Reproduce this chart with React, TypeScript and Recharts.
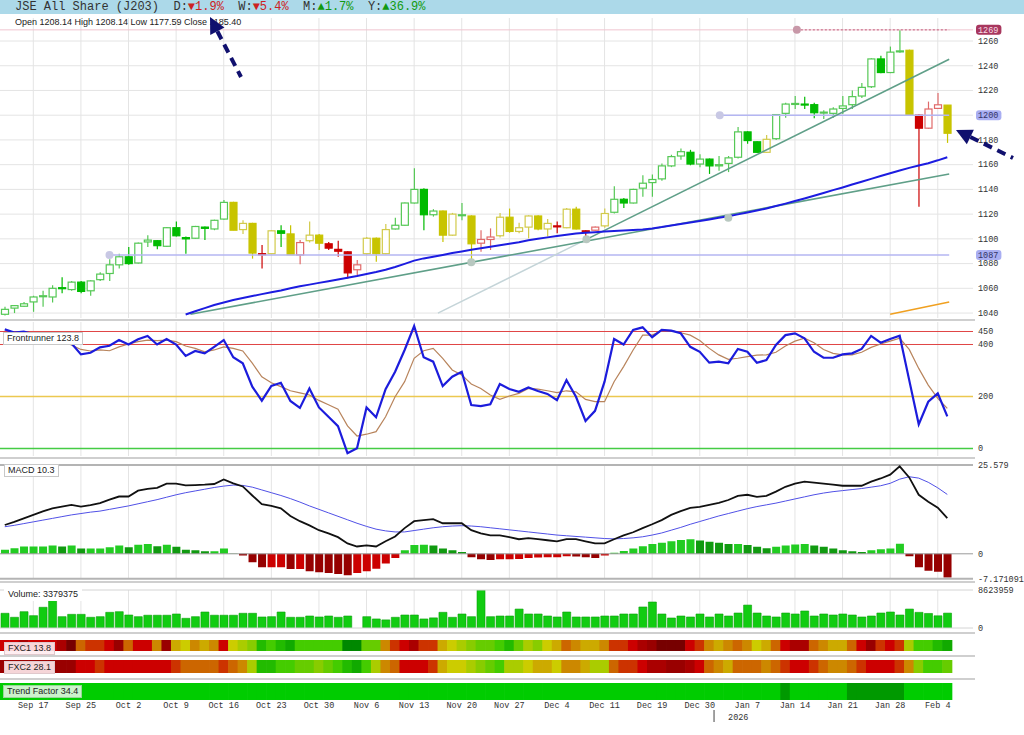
import React from "react";
import { ComposedChart, Bar, Line, XAxis, YAxis, CartesianGrid, ReferenceLine, ReferenceDot, Cell } from "recharts";

// ---- price bars (Sep 12 .. Feb 5) ----
const OPEN = [
  1039, 1044, 1045.5, 1049, 1053.5, 1053, 1060.5, 1059, 1065, 1058,
  1067, 1072, 1079, 1085.5, 1080.5, 1097.5, 1098.5, 1094, 1109, 1101,
  1100.5, 1109.5, 1108, 1116, 1129.5, 1107.5, 1112.5, 1088, 1088, 1106.5,
  1104, 1087, 1098.5, 1103, 1096, 1091.5, 1089.5, 1075, 1088, 1100.5,
  1088, 1108, 1111, 1129, 1140, 1119.5, 1122.5, 1103, 1119, 1118.5,
  1096.5, 1099.5, 1102.5, 1117.5, 1106, 1109.5, 1118.5, 1108, 1110.5, 1109,
  1124, 1106.5, 1107, 1110.5, 1121.5, 1132, 1129, 1141, 1145.5, 1148.5,
  1159, 1167, 1170, 1160.5, 1164.5, 1159, 1161, 1166, 1186.5, 1178.5,
  1170, 1181, 1201.5, 1209, 1209, 1208.5, 1202, 1201.5, 1205.5, 1208.5,
  1215.5, 1223, 1245.5, 1234.5, 1251.5, 1252.5, 1200, 1189.5, 1205.5, 1208.14,
];
const HIGH = [
  1045, 1046.5, 1049, 1054, 1058, 1062.5, 1069, 1066, 1066, 1066.5,
  1073, 1083.5, 1088, 1093.5, 1097, 1103, 1099, 1109.5, 1114, 1102,
  1110.5, 1110, 1115.5, 1131.5, 1130, 1115, 1113, 1095, 1107, 1111,
  1111, 1099, 1114, 1104, 1097.5, 1098.5, 1090, 1083, 1101.5, 1101,
  1112, 1117, 1129.5, 1157, 1141, 1124, 1123, 1121, 1129, 1119,
  1107, 1108.5, 1121, 1124.5, 1113, 1119, 1119, 1116, 1114, 1125,
  1126, 1107, 1110, 1124.5, 1142.5, 1133, 1140.5, 1151.5, 1152, 1161,
  1168, 1173, 1172, 1168.5, 1165, 1167, 1167, 1190.5, 1187, 1179,
  1184, 1201, 1210, 1215.5, 1215, 1210, 1204, 1206.5, 1215.5, 1220,
  1226, 1246, 1248, 1255.5, 1269, 1253, 1200.5, 1211, 1218, 1208.14,
];
const LOW = [
  1038, 1040, 1045, 1041, 1045, 1048.5, 1056, 1058, 1056, 1054,
  1066, 1066, 1076, 1079, 1080, 1093.5, 1091.5, 1093.5, 1102, 1088,
  1100, 1099, 1107, 1115.5, 1107, 1104, 1084, 1076, 1087.5, 1093.5,
  1087, 1079.5, 1097, 1091, 1091, 1085.5, 1068, 1070, 1087, 1081.5,
  1087.5, 1107.5, 1110.5, 1128.5, 1107, 1118, 1097.5, 1102.5, 1115, 1083,
  1089.5, 1091, 1101, 1105, 1104.5, 1100.5, 1107, 1102, 1104.5, 1108.5,
  1107.5, 1099, 1106.5, 1109, 1120.5, 1125, 1128.5, 1134, 1134, 1147,
  1158, 1164, 1159.5, 1158, 1152.5, 1155, 1154, 1165, 1177, 1169.5,
  1169.5, 1180, 1198, 1205, 1205, 1197.5, 1197, 1198, 1201, 1205,
  1214, 1222, 1234, 1234, 1250.5, 1200, 1126, 1189, 1205, 1177.59,
];
const CLOSE = [
  1043, 1046, 1047.5, 1053, 1054, 1060, 1060, 1065, 1057.5, 1066,
  1071.5, 1079, 1085.5, 1080, 1096.5, 1099, 1094.5, 1109, 1102.5, 1100,
  1110, 1108.5, 1115, 1129.5, 1107, 1112.5, 1088.5, 1087.5, 1106.5, 1104.5,
  1087.2, 1097, 1103, 1096.5, 1092.5, 1090, 1072.5, 1079, 1100.5, 1088,
  1107.5, 1111, 1129, 1140, 1119.5, 1122.5, 1103, 1120, 1119.5, 1096,
  1099.5, 1101.5, 1117.5, 1106, 1109, 1118.5, 1108, 1112.5, 1110.2, 1124,
  1108, 1106, 1109.5, 1120.5, 1132, 1129, 1140, 1145, 1148, 1159,
  1166.5, 1170.5, 1160.5, 1164.5, 1159, 1160, 1165.5, 1186.5, 1179.5, 1170,
  1180.5, 1200.5, 1209, 1209.5, 1208.5, 1202, 1202.5, 1205, 1207.5, 1215,
  1222.5, 1245.5, 1234.5, 1251, 1252, 1200.2, 1189.5, 1205, 1208.4, 1185.4,
];
// candle colouring from the source system: g = green, y = yellow, r = red
const TONE = [
  "g", "g", "g", "g", "g", "g", "g", "g", "g", "g",
  "g", "g", "g", "g", "g", "g", "g", "g", "g", "g",
  "g", "g", "g", "g", "y", "y", "y", "r", "y", "g",
  "y", "r", "y", "y", "r", "r", "r", "r", "y", "y",
  "y", "g", "g", "g", "g", "g", "y", "y", "g", "y",
  "r", "r", "y", "y", "y", "y", "y", "y", "r", "y",
  "y", "r", "r", "y", "g", "g", "g", "g", "g", "g",
  "g", "g", "g", "g", "g", "g", "g", "g", "g", "g",
  "y", "g", "g", "g", "g", "g", "g", "g", "g", "g",
  "g", "g", "g", "g", "g", "y", "r", "r", "r", "y",
];

const MA = [
  null, null, null, null, null, null, null, null, null, null,
  null, null, null, null, null, null, null, null, null, 1038.8,
  1041.5, 1044, 1046.5, 1048.5, 1050.5, 1052.2, 1053.8, 1055.3, 1056.8, 1058.3,
  1060, 1061.6, 1063, 1064.4, 1065.8, 1067.2, 1068.6, 1070, 1071.6, 1073.2,
  1075, 1077.3, 1079.8, 1082.4, 1084.2, 1085.6, 1087, 1088.5, 1089.8, 1091.2,
  1092.4, 1093.6, 1094.8, 1096, 1097.2, 1098.8, 1100, 1101.2, 1102.3, 1103.3,
  1104.3, 1104.9, 1105.4, 1105.9, 1106.3, 1106.7, 1107.1, 1107.6, 1108.4, 1109.5,
  1110.8, 1112, 1113.2, 1114.4, 1115.7, 1117, 1118.3, 1119.8, 1121.3, 1122.9,
  1124.6, 1126.5, 1128.5, 1130.6, 1132.7, 1134.9, 1137.1, 1139.4, 1141.6, 1143.9,
  1146.2, 1148.5, 1150.8, 1153.1, 1155.3, 1157.4, 1159.3, 1161.2, 1163.5, 1166,
];

// ---- Frontrunner ----
const FRONT = [
  458, 446, 450, 440, 432, 425, 415, 405, 362, 368,
  389, 395, 417, 400, 420, 433, 400, 421, 400, 356,
  375, 366, 391, 417, 351, 328, 238, 184, 241, 253,
  183, 156, 231, 158, 122, 86, -18, 1, 158, 120,
  228, 295, 379, 471, 351, 334, 240, 276, 295, 167,
  163, 170, 248, 229, 218, 235, 221, 210, 186, 263,
  199, 106, 145, 257, 421, 400, 456, 466, 428, 456,
  453, 443, 391, 372, 330, 334, 328, 383, 372, 330,
  340, 398, 436, 443, 424, 372, 349, 349, 362, 366,
  383, 433, 407, 421, 434, 263, 93, 180, 212, 123.8,
];
const FRONT_SIG = [
  420, 424, 428, 430, 428, 424, 415, 398, 381, 375,
  379, 376, 391, 402, 411, 417, 415, 417, 411, 394,
  385, 372, 379, 391, 385, 375, 328, 276, 253, 238,
  222, 214, 206, 185, 168, 151, 87, 48, 55, 65,
  122, 199, 257, 347, 376, 385, 347, 302, 283, 248,
  231, 206, 189, 202, 212, 231, 228, 222, 215, 222,
  218, 189, 180, 180, 257, 315, 379, 436, 436, 453,
  453, 445, 436, 415, 385, 360, 343, 347, 353, 359,
  360, 370, 394, 413, 424, 407, 381, 366, 360, 360,
  370, 389, 402, 413, 424, 381, 308, 244, 193, 154,
];

// ---- MACD ----
const MACD = [
  8.3, 9.2, 10.2, 11.2, 12.2, 13.1, 13.6, 14.1, 13.6, 14,
  14.6, 15.6, 16.5, 16.5, 18.2, 18.7, 19, 20.2, 20.2, 19.7,
  19.8, 19.9, 20.1, 21.4, 20.3, 19.4, 16.8, 14.3, 13.8, 13.1,
  10.9, 9.4, 8.2, 6.8, 5.9, 4.8, 3, 2.1, 2.4, 2.1,
  3.6, 5, 7.4, 9.4, 9.7, 10, 8.8, 8.8, 8.8, 6.8,
  5.9, 5.3, 5.3, 4.8, 4.2, 4.5, 4.2, 3.9, 3.6, 4.2,
  4.2, 3.6, 3, 3, 4.2, 5.3, 6.2, 7.4, 8.5, 9.7,
  11.2, 12.3, 13.2, 13.5, 14.1, 14.7, 15.5, 16.7, 17, 16.4,
  16.7, 17.9, 19.3, 20.2, 20.8, 20.5, 20.2, 19.9, 19.6, 19.6,
  19.6, 20.8, 21.7, 22.8, 25.2, 22, 17, 15, 13.3, 10.3,
];
const SIGNAL = [
  7.8, 8.2, 8.7, 9.2, 9.7, 10.2, 10.7, 11.2, 11.6, 12,
  12.3, 12.8, 13.3, 13.8, 14.4, 15, 15.6, 16.3, 17, 17.6,
  18.1, 18.6, 19.1, 19.5, 19.8, 19.7, 19.2, 18.4, 17.6, 16.8,
  15.9, 14.9, 13.8, 12.8, 11.8, 10.8, 9.8, 8.8, 7.9, 7.1,
  6.6, 6.3, 6.3, 6.7, 7.1, 7.5, 7.8, 8, 8.1, 8,
  7.8, 7.5, 7.2, 6.9, 6.6, 6.3, 6, 5.7, 5.4, 5.2,
  5, 4.8, 4.6, 4.4, 4.3, 4.4, 4.6, 4.9, 5.4, 6,
  6.8, 7.6, 8.5, 9.3, 10.1, 10.9, 11.6, 12.3, 13, 13.6,
  14.1, 14.6, 15.2, 15.8, 16.4, 17, 17.5, 17.9, 18.2, 18.5,
  18.8, 19.2, 19.6, 20.3, 21.5, 22.2, 21.8, 20.6, 19, 17.1,
];
const HIST = [
  1.2, 1.6, 2.1, 2.1, 2.1, 2.4, 2.1, 2.4, 1.5, 1.5,
  1.5, 1.9, 2.4, 1.9, 2.6, 2.8, 2.2, 2.6, 2, 1.2,
  1, 0.7, 0.7, 1.5, 0.1, -0.5, -2.4, -3.9, -3.9, -3.9,
  -4.4, -4.4, -5, -5.3, -5.5, -5.8, -6.2, -5.5, -5, -4.3,
  -2.8, -1.2, 1, 2.5, 2.6, 2.4, 1.5, 1, 0.5, -1,
  -1.6, -1.8, -1.6, -1.6, -1.5, -1.2, -1.1, -1, -1, -0.7,
  -0.8, -1, -1.2, -0.5, 0.3, 0.8, 1.5, 2.2, 2.8, 3.2,
  3.6, 4, 4.2, 3.8, 3.5, 3.2, 2.8, 2.8, 2.5, 2,
  1.6, 2, 2.4, 2.7, 2.8, 2.4, 2, 1.5, 1, 0.7,
  0.5, 1, 1.3, 1.5, 2.9, -0.7, -3.9, -4.9, -5.2, -6.8,
];
const MACD_MAX = 25.579;
const MACD_MIN = -7.171091;

// ---- volume ----
const VOLUME = [
  3340000, 2430000, 3700000, 2800000, 4700000, 6500000, 2570000, 3100000, 3100000, 2430000,
  2570000, 3560000, 3700000, 2950000, 2570000, 2900000, 2900000, 2900000, 3180000, 2200000,
  2570000, 3630000, 2900000, 2900000, 2900000, 3340000, 3340000, 2500000, 2570000, 3630000,
  2430000, 2430000, 2720000, 2500000, 2720000, 2430000, 2720000, null, 2570000, 2050000,
  1840000, 2430000, 2950000, 2950000, 2050000, 2300000, 3560000, 2430000, 3180000, 2570000,
  8623959, 2570000, 2720000, 2720000, 4300000, 3180000, 3180000, 2720000, 2500000, 3630000,
  2500000, 2500000, 2500000, 2720000, 2720000, 3180000, 3180000, 4770000, 5900000, 3180000,
  2270000, 2720000, 2500000, 3180000, 2500000, 3180000, 2720000, 3400000, 5200000, 3400000,
  2720000, 2500000, 3400000, 3180000, 3860000, 2720000, 3180000, 2950000, 3180000, 2950000,
  2500000, 2720000, 3400000, 3630000, 2950000, 4300000, 3550000, 3300000, 2770000, 3379375,
];
const VOL_MAX = 8623959;

// ---- heat strips (0 = deep red ... 15 = deep green) ----
const FXC1 = [
  3, 3, 2, 3, 3, 3, 2, 0, 5, 4, 4, 3, 1, 5, 3, 3, 6, 1, 7, 8,
  6, 7, 6, 3, 8, 9, 10, 13, 12, 13, 14, 12, 12, 12, 12, 12, 15, 15, 11, 11,
  6, 4, 3, 2, 4, 4, 7, 8, 9, 10, 11, 11, 12, 13, 11, 9, 10, 8, 7, 5,
  6, 7, 7, 6, 4, 4, 3, 2, 1, 0, 0, 0, 3, 4, 6, 7, 6, 5, 6, 8,
  7, 5, 3, 2, 2, 5, 6, 7, 7, 5, 3, 1, 4, 3, 4, 9, 12, 12, 13, 14,
];
const FXC2 = [
  1, 1, 1, 1, 1, 1, 1, 1, 3, 3, 4, 3, 3, 3, 3, 3, 3, 3, 4, 5,
  5, 5, 5, 4, 5, 6, 9, 13, 13, 12, 12, 11, 11, 10, 11, 12, 13, 14, 12, 9,
  6, 5, 3, 3, 3, 4, 7, 8, 8, 9, 10, 11, 12, 9, 9, 8, 7, 7, 8, 6,
  6, 7, 9, 9, 5, 4, 4, 3, 2, 2, 1, 1, 2, 3, 5, 6, 7, 5, 5, 5,
  6, 5, 4, 3, 3, 4, 5, 6, 6, 5, 4, 3, 3, 3, 4, 6, 10, 12, 12, 11,
];
// 1 = trending, 0 = strongly trending (darker cell)
const TREND = [
  1, 1, 1, 1, 1, 1, 1, 1, 1, 1, 1, 1, 1, 1, 1, 1, 1, 1, 1, 1,
  1, 1, 1, 1, 1, 1, 1, 1, 1, 1, 1, 1, 1, 1, 1, 1, 1, 1, 1, 1,
  1, 1, 1, 1, 1, 1, 1, 1, 1, 1, 1, 1, 1, 1, 1, 1, 1, 1, 1, 1,
  1, 1, 1, 1, 1, 1, 1, 1, 1, 1, 1, 1, 1, 1, 1, 1, 1, 1, 1, 1,
  1, 1, 0, 1, 1, 1, 1, 1, 1, 0, 0, 0, 0, 0, 0, 1, 1, 1, 1, 1,
];

const DATE_TICKS = [3, 8, 13, 18, 23, 28, 33, 38, 43, 48, 53, 58, 63, 68, 73, 78, 83, 88, 93, 98];
const DATE_LABELS = ["Sep 17", "Sep 25", "Oct 2", "Oct 9", "Oct 16", "Oct 23", "Oct 30", "Nov 6", "Nov 13", "Nov 20",
  "Nov 27", "Dec 4", "Dec 11", "Dec 19", "Dec 30", "Jan 7", "Jan 14", "Jan 21", "Jan 28", "Feb 4"];
const YEAR_TICKS = [74.5];
const YEAR_LABELS = ["2026"];
const PRICE_GRID = [1040, 1060, 1080, 1100, 1120, 1140, 1160, 1180, 1200, 1220, 1240, 1260];
const PRICE_BADGES: Record<number, [string, string]> = {
  1269: ["#a8375e", "#f6dce4"],
  1200: ["#a9aef2", "#333366"],
  1087: ["#a9aef2", "#333366"],
};

const HEAT = ["#770000", "#990000", "#aa0000", "#cc0000", "#cc3300", "#cc6600", "#cc8800", "#ccaa00",
  "#cccc00", "#aacc00", "#88cc00", "#66cc00", "#44cc00", "#22bb00", "#11aa00", "#008800"];
const CANDLE: Record<string, { line: string; fill: string }> = {
  g: { line: "#55c855", fill: "#00bb00" },
  y: { line: "#d2ca4a", fill: "#c8c400" },
  r: { line: "#e06a6a", fill: "#cc0000" },
};

const rows = OPEN.map((o, i) => ({
  i, o, h: HIGH[i], l: LOW[i], c: CLOSE[i], tone: TONE[i], ma: MA[i],
  fr: FRONT[i], frs: FRONT_SIG[i], macd: MACD[i], sig: SIGNAL[i], hist: HIST[i],
  vol: VOLUME[i], f1: FXC1[i], f2: FXC2[i], tf: TREND[i], one: 1,
}));

const W = 1024;
const AXIS_W = 51;
const X_DOMAIN: [number, number] = [-0.5, 101.7];
const MONO = "'Liberation Mono', 'DejaVu Sans Mono', monospace";
const SANS = "'Liberation Sans', Arial, sans-serif";
const GRID = "#e4e4e4";

function Candle(props: any) {
  const { x, y, width, height, payload } = props;
  if (!payload || height == null) return null;
  const { o, h, l, c, tone } = payload;
  const k = h > l ? height / (h - l) : 0;
  const py = (v: number) => y + (h - v) * k;
  const cx = x + width / 2;
  const col = CANDLE[tone] || CANDLE.g;
  const up = c >= o;
  const top = py(Math.max(o, c));
  const bot = py(Math.min(o, c));
  return (
    <g>
      <line x1={cx} x2={cx} y1={y} y2={y + height} stroke={up ? col.line : col.fill} strokeWidth={1.2} />
      <rect x={x + 0.5} y={top} width={width - 1} height={Math.max(bot - top, 1)}
        fill={up ? "#fff" : col.fill} stroke={up ? col.line : col.fill} strokeWidth={1.2} />
    </g>
  );
}

// heat-strip cell, widened a hair so neighbouring cells meet without seams
function stripCell(colorOf: (r: any) => string) {
  return (p: any) => (
    <rect x={p.x - 0.4} y={p.y} width={p.width + 0.8} height={p.height} fill={colorOf(p.payload)} />
  );
}

function RightTick(props: any) {
  const { x, y, payload } = props;
  const badge = PRICE_BADGES[payload.value];
  const txt = String(payload.value);
  if (badge) {
    return (
      <g>
        <rect x={x - 2} y={y - 5} width={txt.length * 5.1 + 5} height={10} rx={3} fill={badge[0]} />
        <text x={x} y={y} dy="0.33em" fontSize={8.5} fontFamily={MONO} fill={badge[1]}>{txt}</text>
      </g>
    );
  }
  return <text x={x} y={y} dy="0.33em" fontSize={8.5} fontFamily={MONO} fill="#333">{txt}</text>;
}

function DateTick(props: any) {
  const { x, y, index } = props;
  return <text x={x} y={y + 8} textAnchor="middle" fontSize={8.5} fontFamily={MONO} fill="#333">{DATE_LABELS[index]}</text>;
}

function YearTick(props: any) {
  const { x, y, index } = props;
  return (
    <g>
      <line x1={x} x2={x} y1={y} y2={y + 12} stroke="#444" strokeWidth={1} />
      <text x={x + 14} y={y + 10} fontSize={8.5} fontFamily={MONO} fill="#333">{YEAR_LABELS[index]}</text>
    </g>
  );
}

function histColor(i: number) {
  const v = HIST[i];
  const p = i > 0 ? HIST[i - 1] : v;
  if (v >= 0) return v >= p ? "#22cc22" : "#109a10";
  return v < p ? "#960000" : "#cc0000";
}

const hiddenX = <XAxis type="number" dataKey="i" domain={X_DOMAIN} allowDataOverflow hide />;

function rightAxis(domain: [number, number], ticks: number[]) {
  return (
    <YAxis orientation="right" width={AXIS_W} domain={domain} ticks={ticks} interval={0} allowDataOverflow
      axisLine={false} tickLine={false} tickSize={3} tickMargin={2} tick={RightTick} />
  );
}

function Label({ left, top, text, bg = "#fff", border = "#c8c8c8" }: any) {
  return (
    <div style={{
      position: "absolute", left, top, padding: "0 3px", height: 11, lineHeight: "11px",
      fontFamily: SANS, fontSize: 9, color: "#222", background: bg, border: `1px solid ${border}`,
      whiteSpace: "nowrap",
    }}>{text}</div>
  );
}

function Sep({ top }: { top: number }) {
  return <div style={{ position: "absolute", left: 0, top, width: 975, height: 2, background: "#cfcfcf" }} />;
}

function Arrow({ tip, tail }: { tip: [number, number]; tail: [number, number] }) {
  const dx = tail[0] - tip[0];
  const dy = tail[1] - tip[1];
  const len = Math.hypot(dx, dy);
  const ux = dx / len, uy = dy / len;
  const bx = tip[0] + ux * 16, by = tip[1] + uy * 16;
  const px = -uy * 8, py = ux * 8;
  return (
    <g>
      <line x1={bx} y1={by} x2={tail[0]} y2={tail[1]} stroke="#10106e" strokeWidth={4} strokeDasharray="9 6" />
      <polygon points={`${tip[0]},${tip[1]} ${bx + px},${by + py} ${bx - px},${by - py}`} fill="#10106e" />
    </g>
  );
}

export default function App() {
  return (
    <div style={{ position: "absolute", left: 0, top: 0, width: W, height: 735, background: "#fff", overflow: "hidden" }}>
      {/* header */}
      <div style={{ position: "absolute", left: 0, top: 0, width: W, height: 14, background: "#acd9e9" }} />
      <div style={{ position: "absolute", left: 15, top: 0, height: 14, lineHeight: "14px", fontFamily: MONO, fontSize: 12, color: "#333", whiteSpace: "pre" }}>
        {"JSE All Share (J203)  D:"}<span style={{ color: "#cc2222" }}>{"▼1.9%"}</span>
        {"  W:"}<span style={{ color: "#cc2222" }}>{"▼5.4%"}</span>
        {"  M:"}<span style={{ color: "#119911" }}>{"▲1.7%"}</span>
        {"  Y:"}<span style={{ color: "#119911" }}>{"▲36.9%"}</span>
      </div>

      {/* price */}
      <div style={{ position: "absolute", left: 0, top: 14 }}>
        <ComposedChart width={W} height={306} data={rows} margin={{ top: 4, right: 0, bottom: 2, left: 0 }}>
          <CartesianGrid stroke={GRID} verticalValues={DATE_TICKS} horizontalValues={PRICE_GRID} />
          {hiddenX}
          {rightAxis([1036, 1278.6], [...PRICE_GRID, 1087, 1269])}
          <ReferenceLine y={1269} stroke="#f0c4cf" />
          <ReferenceLine segment={[{ x: 83.2, y: 1269 }, { x: 99.2, y: 1269 }]} stroke="#c0607e" strokeDasharray="2 2" />
          <ReferenceLine segment={[{ x: 75.1, y: 1200 }, { x: 99.2, y: 1200 }]} stroke="#b4b6f2" strokeWidth={1.5} />
          <ReferenceLine segment={[{ x: 11, y: 1087 }, { x: 99.2, y: 1087 }]} stroke="#b4b6f2" strokeWidth={1.5} />
          <ReferenceLine segment={[{ x: 45.5, y: 1040 }, { x: 61.1, y: 1099.6 }]} stroke="#c4d4d8" strokeWidth={1.5} />
          <Bar dataKey={(d: any) => [d.l, d.h]} barSize={8} shape={Candle} isAnimationActive={false} />
          <ReferenceLine segment={[{ x: 19.5, y: 1039 }, { x: 99.2, y: 1152.5 }]} stroke="#5f9f88" strokeWidth={1.6} />
          <ReferenceLine segment={[{ x: 61.1, y: 1099.6 }, { x: 99.2, y: 1245.3 }]} stroke="#5f9f88" strokeWidth={1.6} />
          <ReferenceLine segment={[{ x: 93, y: 1039 }, { x: 99.2, y: 1048.9 }]} stroke="#f0a020" strokeWidth={1.6} />
          <Line dataKey="ma" stroke="#1c1ce0" strokeWidth={2} dot={false} isAnimationActive={false} />
          <ReferenceDot x={11} y={1087} r={4} fill="#c8c8e4" stroke="none" />
          <ReferenceDot x={49} y={1081} r={4} fill="#b8c8c0" stroke="none" />
          <ReferenceDot x={61.1} y={1099.6} r={4} fill="#b8c8c0" stroke="none" />
          <ReferenceDot x={75.1} y={1200} r={4} fill="#c8c8e4" stroke="none" />
          <ReferenceDot x={76} y={1117} r={4} fill="#b8c8c0" stroke="none" />
          <ReferenceDot x={83.2} y={1269} r={4} fill="#c898a8" stroke="none" />
        </ComposedChart>
      </div>
      <div style={{ position: "absolute", left: 15, top: 17, fontFamily: SANS, fontSize: 9, color: "#222", whiteSpace: "nowrap" }}>
        Open 1208.14 High 1208.14 Low 1177.59 Close 1185.40
      </div>
      <Sep top={319} />

      {/* frontrunner */}
      <div style={{ position: "absolute", left: 0, top: 320 }}>
        <ComposedChart width={W} height={138} data={rows} margin={{ top: 2, right: 0, bottom: 2, left: 0 }}>
          <CartesianGrid stroke={GRID} verticalValues={DATE_TICKS} horizontal={false} />
          {hiddenX}
          {rightAxis([-28.8, 486.5], [0, 200, 400, 450])}
          <ReferenceLine y={450} stroke="#e04444" />
          <ReferenceLine y={400} stroke="#e04444" />
          <ReferenceLine y={200} stroke="#ecc850" strokeWidth={1.6} />
          <ReferenceLine y={0} stroke="#44cc44" strokeWidth={1.6} />
          <Line dataKey="frs" stroke="#b8845c" strokeWidth={1.2} dot={false} isAnimationActive={false} />
          <Line dataKey="fr" stroke="#1c1cdc" strokeWidth={2.2} dot={false} isAnimationActive={false} />
        </ComposedChart>
      </div>
      <Label left={3} top={332} text="Frontrunner 123.8" />
      <Sep top={457} />

      {/* macd */}
      <div style={{ position: "absolute", left: 0, top: 461 }}>
        <ComposedChart width={W} height={126} data={rows} margin={{ top: 4, right: 0, bottom: 8.3, left: 0 }}>
          <CartesianGrid stroke={GRID} verticalValues={DATE_TICKS} horizontal={false} />
          {hiddenX}
          {rightAxis([MACD_MIN, MACD_MAX], [MACD_MIN, 0, MACD_MAX])}
          <ReferenceLine y={MACD_MAX} stroke="#b4b4b4" strokeWidth={2} />
          <ReferenceLine y={MACD_MIN} stroke="#b4b4b4" strokeWidth={2} />
          <ReferenceLine y={0} stroke="#9a9a9a" />
          <Bar dataKey="hist" barSize={8} isAnimationActive={false}>
            {rows.map((r) => <Cell key={r.i} fill={histColor(r.i)} />)}
          </Bar>
          <Line dataKey="sig" stroke="#5050e6" strokeWidth={1} dot={false} isAnimationActive={false} />
          <Line dataKey="macd" stroke="#111" strokeWidth={1.8} dot={false} isAnimationActive={false} />
        </ComposedChart>
      </div>
      <Label left={4} top={464} text="MACD 10.3" />
      <Sep top={581} />

      {/* volume */}
      <div style={{ position: "absolute", left: 0, top: 584 }}>
        <ComposedChart width={W} height={54} data={rows} margin={{ top: 6, right: 0, bottom: 10, left: 0 }}>
          <CartesianGrid stroke={GRID} verticalValues={DATE_TICKS} horizontal={false} />
          {hiddenX}
          {rightAxis([0, VOL_MAX], [0, VOL_MAX])}
          <ReferenceLine y={VOL_MAX} stroke="#d4d4d4" />
          <ReferenceLine y={0} stroke="#d4d4d4" />
          <Bar dataKey="vol" barSize={8} fill="#11cc11" stroke="#0a9f0a" strokeWidth={0.6} isAnimationActive={false} />
        </ComposedChart>
      </div>
      <Label left={4} top={588} text="Volume: 3379375" border="#fff" />
      <Sep top={632} />

      {/* FXC1 */}
      <div style={{ position: "absolute", left: 0, top: 640 }}>
        <ComposedChart width={W} height={11} data={rows} margin={{ top: 0, right: AXIS_W, bottom: 0, left: 0 }}>
          {hiddenX}
          <YAxis hide domain={[0, 1]} />
          <Bar dataKey="one" barSize={9.4} isAnimationActive={false} shape={stripCell((r) => HEAT[r.f1])} />
        </ComposedChart>
      </div>
      <Label left={4} top={642} text="FXC1 13.8" bg="rgba(255,236,240,0.9)" border="#e0c8cc" />
      <Sep top={655} />

      {/* FXC2 */}
      <div style={{ position: "absolute", left: 0, top: 660 }}>
        <ComposedChart width={W} height={13} data={rows} margin={{ top: 0, right: AXIS_W, bottom: 0, left: 0 }}>
          {hiddenX}
          <YAxis hide domain={[0, 1]} />
          <Bar dataKey="one" barSize={9.4} isAnimationActive={false} shape={stripCell((r) => HEAT[r.f2])} />
        </ComposedChart>
      </div>
      <Label left={4} top={661} text="FXC2 28.1" bg="rgba(255,236,240,0.9)" border="#e0c8cc" />
      <Sep top={678} />

      {/* trend factor + date axis */}
      <div style={{ position: "absolute", left: 0, top: 683 }}>
        <ComposedChart width={W} height={51} data={rows} margin={{ top: 0, right: AXIS_W, bottom: 0, left: 0 }}>
          <XAxis type="number" dataKey="i" domain={X_DOMAIN} allowDataOverflow ticks={DATE_TICKS} interval={0}
            height={10} tickSize={0} tickMargin={0} axisLine={false} tickLine={false} tick={DateTick} />
          <XAxis xAxisId="year" type="number" dataKey="i" domain={X_DOMAIN} allowDataOverflow ticks={YEAR_TICKS} interval={0}
            height={24} tickSize={0} tickMargin={0} axisLine={false} tickLine={false} tick={YearTick} />
          <YAxis hide domain={[0, 1]} />
          <Bar dataKey="one" barSize={9.4} isAnimationActive={false}
            shape={stripCell((r) => (r.tf ? "#00cc00" : "#009900"))} />
        </ComposedChart>
      </div>
      <Label left={3} top={685} text="Trend Factor 34.4" bg="#ccf2cc" border="#99d699" />

      {/* annotation arrows */}
      <svg width={W} height={735} style={{ position: "absolute", left: 0, top: 0, pointerEvents: "none" }}>
        <Arrow tip={[210, 17]} tail={[241, 77]} />
        <Arrow tip={[956, 130]} tail={[1013, 158]} />
      </svg>
    </div>
  );
}
